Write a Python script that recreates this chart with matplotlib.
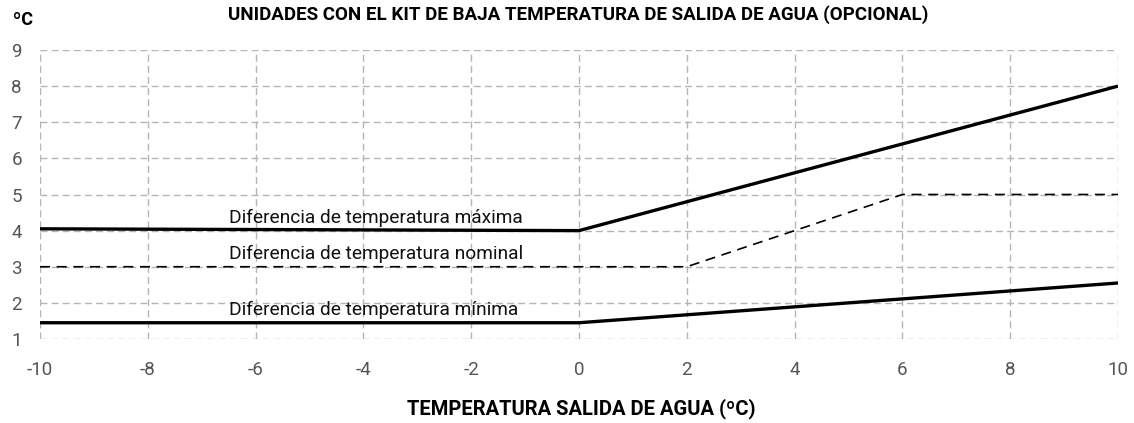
import matplotlib.pyplot as plt

plt.rcParams['font.family'] = ['Roboto', 'DejaVu Sans']

# Datos
x_max = [-10, 0, 10]
y_max = [4.05, 4.0, 8.0]
x_nom = [-10, 2, 6, 10]
y_nom = [3.0, 3.0, 5.0, 5.0]
x_min = [-10, 0, 10]
y_min = [1.45, 1.45, 2.55]

etiquetas = ['Diferencia de temperatura máxima',
             'Diferencia de temperatura nominal',
             'Diferencia de temperatura mínima']

xticks = list(range(-10, 11, 2))
yticks = list(range(1, 10))

fig = plt.figure(figsize=(11.34, 4.23), dpi=100)
ax = fig.add_axes([40 / 1134, 1 - 339 / 423, (1118 - 40) / 1134, (339 - 50) / 423])

ax.plot(x_max, y_max, color='black', lw=2.4, solid_capstyle='butt')
ax.plot(x_nom, y_nom, color='black', lw=1.2, dashes=(6, 4))
ax.plot(x_min, y_min, color='black', lw=2.4, solid_capstyle='butt')

# Etiquetas de las curvas
for txt, yv in zip(etiquetas, [y_max[1], y_nom[0], y_min[0]]):
    ax.annotate(txt, xy=(-6.5, yv), xytext=(0, 2.5), textcoords='offset points',
                ha='left', va='bottom', fontsize=13.8, color='#111111')

ax.set_xlim(-10, 10)
ax.set_ylim(1, 9)
ax.set_xticks(xticks)
ax.set_yticks(yticks)
ax.set_xticklabels([str(v) for v in xticks])
ax.grid(True, color='#b5b5b5', lw=1.0, dashes=(5, 3))
for s in ax.spines.values():
    s.set_visible(False)
ax.tick_params(length=0, labelsize=13.5, labelcolor='#555555')
ax.tick_params(axis='x', pad=16)
ax.tick_params(axis='y', pad=13)

fig.text(13 / 1134, 1 - 20 / 423, 'ºC', fontsize=13, fontweight='bold', ha='left', va='center')
fig.text(578 / 1134, 1 - 15 / 423, 'UNIDADES CON EL KIT DE BAJA TEMPERATURA DE SALIDA DE AGUA (OPCIONAL)',
         fontsize=13.5, fontweight='bold', ha='center', va='center')
fig.text(581 / 1134, 1 - 409 / 423, 'TEMPERATURA SALIDA DE AGUA (ºC)',
         fontsize=14.5, fontweight='bold', ha='center', va='center')

fig.savefig('out.png', dpi=100)
